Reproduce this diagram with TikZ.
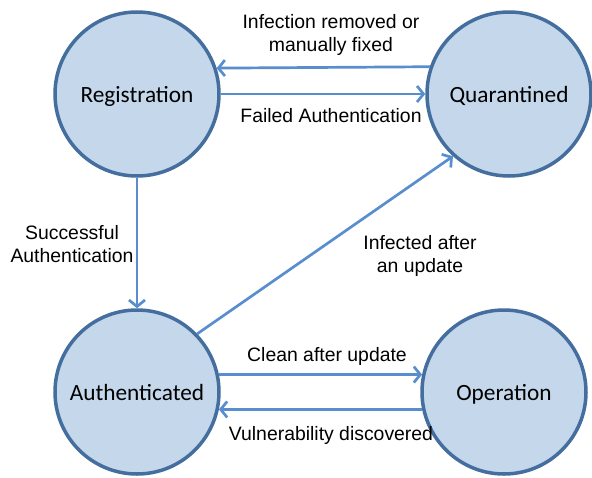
\documentclass[tikz,border=0pt]{standalone}
\usepackage{fontspec}
\setmainfont{Liberation Sans}
\newfontfamily\statefont{Carlito}
\usetikzlibrary{arrows.meta}
\definecolor{statefill}{RGB}{197,215,235}
\definecolor{stateedge}{RGB}{68,110,158}
\definecolor{linkblue}{RGB}{88,142,206}
\tikzset{
  state/.style={circle, draw=stateedge, fill=statefill, line width=3.5pt,
    minimum size=164pt, inner sep=0pt, text height=21pt, text depth=5pt,
    font=\statefont\fontsize{23.3}{28}\selectfont},
  link/.style={draw=linkblue, line width=2.7pt,
    -{Straight Barb[length=6.5pt,width=16pt,line width=2.7pt]}},
  tag/.style={align=center, inner sep=0pt,
    font=\fontsize{19.4}{23.5}\selectfont}
}
\begin{document}
\begin{tikzpicture}[x=1pt,y=-1pt]
  \useasboundingbox (0,0) rectangle (592,477);

  % states
  \node[state] (R) at (137,94)  {Registration};
  \node[state] (Q) at (509,94)  {Quarantined};
  \node[state] (A) at (137,392) {Authenticated};
  \node[state] (O) at (504,392) {Operation};

  % transitions
  \draw[link] (Q.161.5) -- (R.18.5);
  \draw[link] (R.east) -- (Q.west);
  \draw[link] (R.south) -- (A.north);
  \draw[link] (A.44) -- (Q.228);
  \draw[link] (A.12) -- (O.168);
  \draw[link] (O.192) -- (A.-12);

  % transition labels
  \node[tag] (l1) at (331,35)  {Infection removed or\\manually fixed};
  \node[tag] (l2) at (331,116) {Failed Authentication};
  \node[tag] (l3) at (72,244)  {Successful\\Authentication};
  \node[tag] (l4) at (420,256) {Infected after\\an update};
  \node[tag] (l5) at (327,356) {Clean after update};
  \node[tag] (l6) at (331,435) {Vulnerability discovered};
\end{tikzpicture}
\end{document}
